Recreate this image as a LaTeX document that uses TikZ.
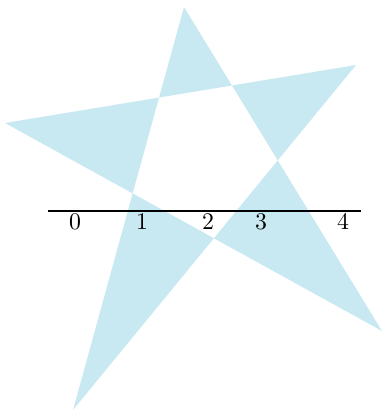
\documentclass[tikz,border=0pt]{standalone}
\usepackage{tikz}
\usetikzlibrary{positioning}
\definecolor{starblue}{RGB}{200,233,242}

\begin{document}
\begin{tikzpicture}[x=0.42pt, y=-0.42pt]
    % Frame
    \useasboundingbox (0, 0) rectangle (382, 412);

    % Star corners
    \coordinate (top) at (184, 7);
    \coordinate (right) at (356, 65);
    \coordinate (botright) at (382, 331);
    \coordinate (botleft) at (73, 410);
    \coordinate (left) at (5, 123);

    \fill[starblue, even odd rule] (top) -- (botleft) -- (right) -- (left) -- (botright) -- cycle;

    % Axis
    \coordinate (axisL) at (48, 211);
    \coordinate (axisR) at (361, 211);
    \draw[thick] (axisL) -- (axisR);

    \foreach \n/\x in {0/75, 1/142, 2/208, 3/261, 4/343} {
        \node (lab\n) at (\x, 222) {$\n$};
    }
\end{tikzpicture}
\end{document}
